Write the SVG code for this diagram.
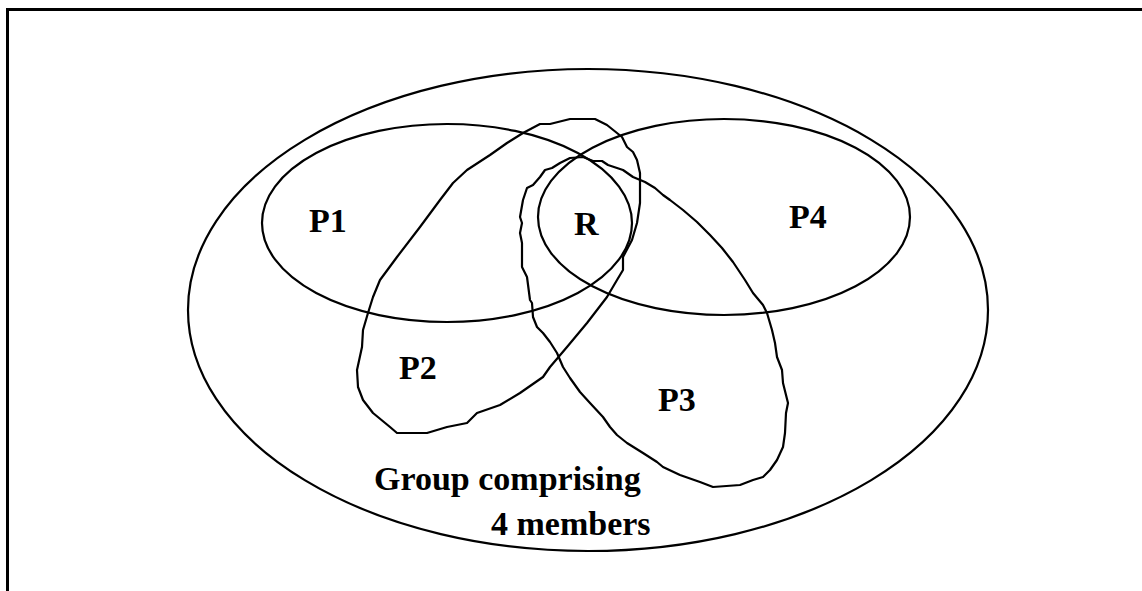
<svg xmlns="http://www.w3.org/2000/svg" width="1142" height="591" viewBox="0 0 1142 591">
<style>
.ln{fill:none;stroke:#000;stroke-width:2.2;stroke-linejoin:round;stroke-linecap:round}
.fr{fill:none;stroke:#000;stroke-width:3}
.t{font-family:"Liberation Serif","Times New Roman",serif;font-size:34px;font-weight:bold;fill:#000}
</style>
<rect width="1142" height="591" fill="#fff"/>
<path class="fr" d="M7.5,591 V9.5 H1142"/>
<g id="group">
<ellipse class="ln" cx="588" cy="310" rx="400" ry="241"/>
<text class="t" x="374" y="490">Group comprising</text>
<text class="t" x="491" y="535">4 members</text>
</g>
<g id="P1">
<ellipse class="ln" cx="447" cy="223" rx="185" ry="99"/>
<text class="t" x="309" y="232">P1</text>
</g>
<g id="P4">
<ellipse class="ln" cx="724" cy="217" rx="186" ry="98"/>
<text class="t" x="789" y="228">P4</text>
</g>
<g id="P2">
<path class="ln" d="M540,124 L550,124 570,119 595,119 607,125 622,137 627,147 633,152 637,160 640,173 640,203 637,223 632,240 623,257 623,270 617,280 607,297 587,323 567,347 550,367 543,377 520,393 500,405 477,413 467,423 447,427 427,433 397,433 390,427 373,413 363,400 358,387 357,370 362,347 363,330 368,313 373,297 380,280 397,257 420,227 440,200 453,183 467,170 490,155 507,143 523,133 Z"/>
<text class="t" x="399" y="379">P2</text>
</g>
<g id="P3">
<path class="ln" d="M570,158 L583,157 593,161 602,161 608,165 617,168 623,170 633,177 645,182 655,188 663,195 670,200 683,210 697,222 710,235 722,248 733,262 745,280 753,293 763,305 767,313 772,330 775,343 777,357 782,370 783,383 788,403 786,413 785,433 783,447 777,460 770,470 763,477 753,480 740,485 713,487 700,482 680,475 663,467 657,462 643,453 627,443 617,435 610,427 603,417 590,403 580,392 570,378 563,367 557,353 550,342 543,333 537,327 533,317 532,303 530,300 527,277 522,267 522,243 520,233 522,223 520,217 523,200 527,188 533,185 540,177 545,170 552,168 560,163 Z"/>
<text class="t" x="658" y="411">P3</text>
</g>
<g id="R">
<text class="t" x="574" y="235">R</text>
</g>
</svg>
